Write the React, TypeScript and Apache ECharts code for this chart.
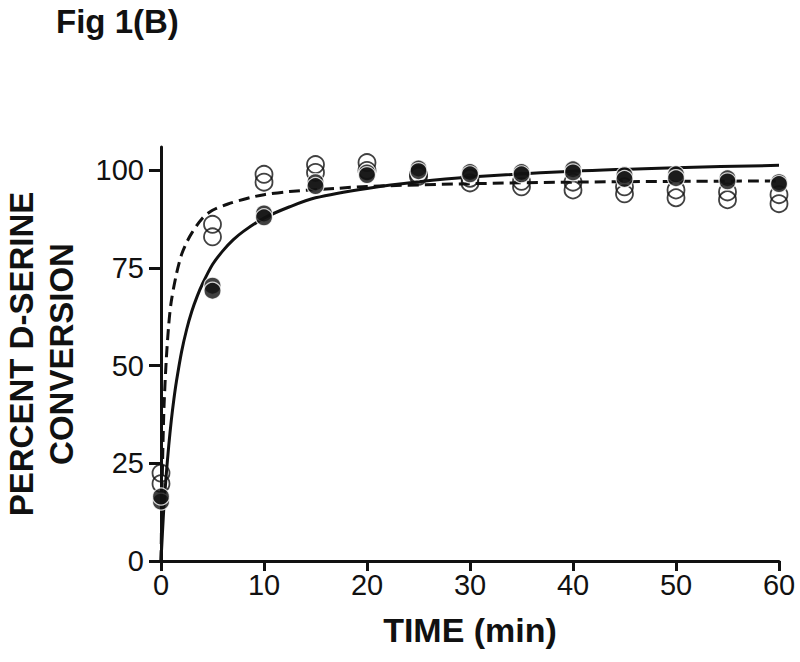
import React, { useEffect, useRef } from "react";
import * as echarts from "echarts";

// Sampling times (min)
const times = [0, 5, 10, 15, 20, 25, 30, 35, 40, 45, 50, 55, 60];
// Filled circles (two replicates)
const filledRep1 = [15.2, 70.5, 89.0, 97.0, 99.5, 100.5, 99.6, 99.6, 100.3, 98.8, 99.0, 98.0, 97.0];
const filledRep2 = [16.5, 69.2, 88.0, 96.0, 98.8, 99.8, 99.0, 99.0, 99.5, 97.8, 98.0, 97.2, 96.5];
// Open circles (two replicates)
const openRep1 = [22.5, 86.2, 99.0, 101.5, 102.0, 99.0, 98.0, 97.2, 97.0, 95.8, 95.0, 94.5, 93.8];
const openRep2 = [19.8, 83.0, 97.0, 99.5, 100.0, 98.5, 96.8, 95.8, 95.0, 94.0, 93.0, 92.5, 91.5];

// Fitted curve (solid)
const solidT = [0, 0.25, 0.5, 0.75, 1, 1.25, 1.5, 2, 2.5, 3, 3.5, 4, 5, 6, 7, 8, 10, 12.5, 15, 20, 25, 30, 40, 50, 60];
const solidY = [0, 12.5, 21.8, 29.5, 36, 41.4, 46, 53.6, 59.4, 64, 67.7, 70.8, 75.9, 79.4, 82.2, 84.4, 87.8, 90.7, 93, 95.4, 97.1, 98.3, 99.8, 100.7, 101.3];
// Fitted curve (dashed)
const dashT = [0, 0.1, 0.2, 0.3, 0.5, 0.75, 1, 1.5, 2, 2.5, 3, 4, 5, 6.5, 8.6, 10, 12.5, 17, 20, 30, 40, 50, 60];
const dashY = [0, 18, 31, 40, 51, 60.5, 66.5, 73.5, 78.5, 81.6, 84, 87.7, 89.8, 91.4, 93, 93.8, 94.6, 95.4, 95.9, 96.6, 97, 97.2, 97.3];

const yTicks = [0, 25, 50, 75, 100];

const FONT = "'Liberation Sans', Arial, Helvetica, sans-serif";
const INK = "#111111";

export default function App() {
  const ref = useRef<HTMLDivElement>(null);

  useEffect(() => {
    if (!ref.current) return;
    const chart = echarts.init(ref.current, null, { renderer: "svg" });

    const zip = (xs: number[], ys: number[]) => xs.map((x, i) => [x, ys[i]]);
    const filledData = [...zip(times, filledRep1), ...zip(times, filledRep2)];
    const openData = [...zip(times, openRep1), ...zip(times, openRep2)];

    chart.setOption({
      animation: false,
      backgroundColor: "#ffffff",
      textStyle: { fontFamily: FONT },
      title: {
        text: "Fig 1(B)",
        left: 56,
        top: 5,
        padding: 0,
        textStyle: { fontFamily: FONT, fontSize: 33, fontWeight: "bold", color: INK },
      },
      grid: { left: 161, right: 21, top: 147, bottom: 101, containLabel: false, outerBoundsMode: "none" },
      xAxis: {
        type: "value",
        min: 0,
        max: 60,
        interval: 10,
        name: "TIME (min)",
        nameLocation: "middle",
        nameGap: 52,
        nameTextStyle: { fontFamily: FONT, fontSize: 34, fontWeight: "bold", color: INK },
        axisLine: { show: true, onZero: false, lineStyle: { color: INK, width: 3 } },
        axisTick: { show: true, length: 10, lineStyle: { color: INK, width: 3 } },
        axisLabel: { fontFamily: FONT, fontSize: 29, color: INK, margin: 9 },
        splitLine: { show: false },
      },
      yAxis: {
        type: "value",
        min: 0,
        max: 106,
        name: "PERCENT D-SERINE\nCONVERSION",
        nameLocation: "middle",
        nameRotate: 90,
        nameGap: 80,
        nameTextStyle: {
          fontFamily: FONT,
          fontSize: 33,
          fontWeight: "bold",
          color: INK,
          lineHeight: 40,
          align: "center",
        },
        axisLine: { show: true, onZero: false, lineStyle: { color: INK, width: 3 } },
        axisTick: { show: true, length: 12, customValues: yTicks, lineStyle: { color: INK, width: 3 } },
        axisLabel: { fontFamily: FONT, fontSize: 29, color: INK, margin: 17, customValues: yTicks },
        splitLine: { show: false },
      },
      series: [
        {
          name: "fit (solid)",
          type: "line",
          data: zip(solidT, solidY),
          showSymbol: false,
          smooth: 0.3,
          lineStyle: { color: INK, width: 3 },
          z: 2,
        },
        {
          name: "fit (dashed)",
          type: "line",
          data: zip(dashT, dashY),
          showSymbol: false,
          smooth: 0.3,
          lineStyle: { color: INK, width: 3, type: [11, 6] },
          z: 2,
        },
        {
          name: "open",
          type: "scatter",
          data: openData,
          symbol: "circle",
          symbolSize: 17,
          itemStyle: { color: "rgba(255,255,255,0)", borderColor: INK, borderWidth: 1.8 },
          z: 3,
        },
        {
          name: "filled",
          type: "scatter",
          data: filledData,
          symbol: "circle",
          symbolSize: 17,
          itemStyle: { color: INK, borderColor: "#ffffff", borderWidth: 1.2 },
          z: 4,
        },
      ],
    });

    return () => chart.dispose();
  }, []);

  return (
    <div
      ref={ref}
      style={{ position: "fixed", left: 0, top: 0, width: 800, height: 662, background: "#fff" }}
    />
  );
}
